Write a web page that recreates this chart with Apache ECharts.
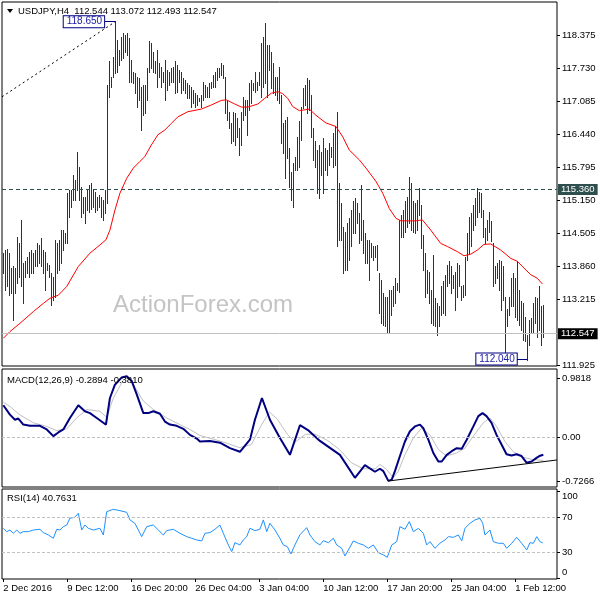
<!DOCTYPE html>
<html><head><meta charset="utf-8">
<script src="https://cdn.jsdelivr.net/npm/echarts@6/dist/echarts.min.js"></script>
<style>html,body{margin:0;padding:0;background:#fff}#c{width:600px;height:600px}</style>
</head><body><div id="c"></div>
<script>
// ---- data ----
const highs = [114.12,114.18,114.20,114.12,113.83,113.86,113.83,114.44,114.31,114.77,113.92,113.96,114.05,114.15,114.18,114.12,114.18,114.31,114.28,114.41,114.18,114.15,113.92,113.89,113.73,113.66,114.38,114.31,114.38,114.57,114.57,114.51,115.29,115.35,115.35,115.65,115.55,116.10,115.81,115.42,115.22,115.22,115.35,115.45,115.48,115.35,115.32,115.22,115.26,115.22,115.16,115.35,117.40,117.86,117.56,117.95,118.65,118.28,118.08,118.34,118.41,118.38,118.41,118.31,117.89,117.66,117.63,117.56,117.53,
117.37,117.40,117.40,117.73,118.25,118.21,118.05,117.86,118.08,117.82,117.76,117.66,117.89,117.69,117.66,117.73,117.76,117.86,117.79,117.69,117.66,117.53,117.50,117.43,117.40,117.37,117.30,117.24,117.21,117.14,117.21,117.46,117.40,117.37,117.43,117.46,117.59,117.66,117.73,117.73,117.82,117.79,117.56,117.11,116.88,116.65,116.88,116.85,116.75,116.56,116.88,117.17,117.11,117.11,117.43,117.50,117.43,117.66,117.46,117.66,118.21,118.34,118.60,118.18,118.18,118.05,117.82,117.56,117.56,
117.76,117.20,116.65,116.72,116.78,116.17,115.71,115.87,116.00,116.39,116.69,116.98,117.34,117.40,117.53,117.50,117.20,116.56,116.30,116.13,116.23,116.10,116.36,116.17,116.13,116.26,116.20,116.46,116.60,116.88,115.48,115.09,114.64,114.54,114.70,114.80,114.96,115.13,115.19,115.09,114.90,115.45,114.77,114.51,114.38,114.38,114.31,114.25,114.25,114.28,113.73,113.60,113.34,113.27,113.27,113.40,113.40,113.47,113.63,113.53,114.77,114.86,114.96,115.13,115.22,115.61,115.48,115.13,115.10,
115.16,115.39,115.06,114.48,114.12,113.79,113.76,113.40,114.09,113.24,113.14,113.08,113.47,113.57,113.70,113.89,113.96,113.86,113.70,113.76,113.92,113.89,113.47,113.50,114.05,114.51,114.83,114.90,115.06,115.19,115.39,115.32,115.29,114.96,114.61,114.77,114.93,114.74,114.31,113.86,113.92,113.99,113.96,113.86,113.27,113.04,113.27,113.63,113.73,113.63,113.96,113.40,113.18,113.14,112.88,112.53,112.82,112.85,113.14,113.27,113.24,113.47,113.08,113.11];
const lows = [113.73,113.40,113.47,113.31,113.34,112.82,113.34,113.53,113.66,113.47,113.14,113.66,113.73,113.66,113.73,113.73,113.86,113.86,113.92,113.86,113.73,113.40,113.79,113.66,113.11,113.21,113.27,113.73,113.79,113.92,114.18,114.31,114.31,114.83,115.03,115.16,115.16,115.35,115.16,114.83,114.90,114.70,114.96,114.93,114.99,115.03,114.93,114.96,115.03,114.83,114.77,114.90,115.09,117.17,117.37,117.56,117.63,117.66,117.79,117.89,117.92,118.05,117.99,117.46,117.46,117.43,117.24,116.98,117.11,
116.52,116.81,116.85,117.11,117.66,117.73,117.66,117.63,117.37,117.56,117.37,117.46,117.11,117.30,117.40,117.46,117.46,117.24,117.27,117.46,117.24,117.30,117.24,117.14,117.14,116.98,117.04,116.98,117.01,117.08,116.98,117.11,117.17,117.17,117.17,117.34,117.37,117.37,117.50,117.56,117.60,117.53,116.85,116.72,116.56,116.26,116.30,116.23,116.39,116.04,116.23,116.72,116.81,116.43,116.91,117.04,117.30,117.27,117.30,117.40,117.17,117.37,117.43,117.17,117.69,117.34,117.24,117.21,117.10,
117.04,116.26,116.07,115.58,115.97,115.42,115.16,115.03,115.74,115.74,115.81,116.33,116.95,117.01,116.85,116.91,116.39,115.94,115.81,115.29,115.19,115.65,115.29,115.74,115.65,115.84,116.00,115.81,115.84,114.25,114.38,114.38,113.73,113.79,113.79,113.99,114.25,114.51,114.51,114.70,114.31,114.38,114.12,113.92,113.92,113.60,114.05,113.99,114.05,113.79,112.95,112.75,112.72,112.69,112.56,112.56,112.91,113.08,113.14,113.40,113.37,114.44,114.44,114.54,114.64,114.70,114.57,114.54,114.52,
114.57,114.87,114.22,113.79,113.27,113.34,113.14,112.75,112.72,112.69,112.53,112.69,112.92,112.95,112.92,113.47,113.53,113.34,113.44,113.01,113.27,113.47,113.21,113.27,113.31,113.99,114.12,114.25,114.57,114.67,114.83,114.93,114.83,114.44,114.31,114.38,114.54,114.35,113.47,113.53,113.63,113.40,113.01,113.21,112.08,112.69,112.92,113.08,113.08,112.88,112.82,112.72,112.62,112.43,112.40,112.04,112.33,112.56,112.56,112.75,112.49,112.62,112.33,112.49];

const maBars = [0,3.3,8.3,15,20,23.3,27.5,31.7,37.5,43.3,48.3,51.3,53.3,55.8,58.3,61.7,65,68.3,70.7,74,77.3,80.7,84,87.3,92.3,99,104,109,111.5,115.7,119,122.3,127.3,130.7,134,137.3,139.7,142.2,144.7,148,153,156.3,161.3,166.3,169.7,173,178,181.3,186.3,189.7,193,196.3,198.8,203,206.3,209.5,213.7,218.7,222,227,230.3,233.7,237,240.3,243.7,248.7,253.7,257,260.3,263.7,267,269.5];
const maValues = [112.46,112.59,112.75,112.98,113.14,113.24,113.30,113.47,113.86,114.12,114.28,114.38,114.57,114.96,115.29,115.58,115.78,115.91,116.00,116.23,116.43,116.52,116.65,116.78,116.88,116.93,117.01,117.10,117.11,117.03,116.97,116.97,117.03,117.14,117.24,117.27,117.23,117.14,116.98,116.90,116.93,116.81,116.66,116.59,116.39,116.13,115.94,115.78,115.52,115.29,114.99,114.80,114.75,114.75,114.75,114.77,114.57,114.31,114.25,114.15,114.07,114.10,114.18,114.29,114.30,114.18,114.02,113.96,113.83,113.70,113.63,113.52];

const macdBars = [0,3.3,5.8,7.5,10,13.3,18.3,21.7,25,27.5,30,33.3,37.5,40.8,43.3,46.7,50,51.3,53.3,55.8,59.2,61.7,64.2,66.7,70,72.5,75,78.3,80.8,83.3,86.7,90,93.3,96.7,98.3,103.3,108.3,113.3,118.3,123.3,125.8,129.3,133.3,138.3,143.3,148.3,152.3,158.3,168.3,175.8,180.8,185.8,188.3,190,192.5,194.2,195.8,198.3,200.8,203.3,205.8,208.3,210,212.5,215,217.5,219.2,221.7,224.2,226.7,229.2,231.7,235,237.5,239.6,241.6,244.1,246.6,249.1,251.6,254.1,256.6,259.1,261.6,264.1,266.6,268,270];
const macdValues = [0.53,0.375,0.29,0.31,0.21,0.19,0.19,0.13,0.02,0.08,0.13,0.32,0.53,0.43,0.40,0.32,0.24,0.21,0.65,0.87,0.99,1.01,0.93,0.71,0.40,0.40,0.43,0.39,0.26,0.21,0.19,0.14,0.04,-0.02,-0.07,-0.06,-0.09,-0.18,-0.24,-0.04,0.29,0.65,0.29,-0.01,-0.29,0.20,0.12,-0.06,-0.29,-0.67,-0.46,-0.57,-0.52,-0.56,-0.72,-0.70,-0.56,-0.31,-0.07,0.10,0.18,0.21,0.15,-0.04,-0.26,-0.40,-0.40,-0.29,-0.23,-0.18,-0.19,-0.04,0.18,0.35,0.40,0.35,0.24,0.04,-0.12,-0.28,-0.30,-0.28,-0.31,-0.42,-0.40,-0.34,-0.31,-0.2894];
const signalBars = [0,3.3,8.3,15,21.7,26.7,31.7,36.7,41.7,48.3,51.7,55,60,62.5,65,70,75,81.7,88.3,93.3,98.3,105,112,118,124,129,133,137,142,146,151,156,162,168,174,180,186,188.3,191.6,195,197.5,200.8,205,209.1,213.3,217.5,221.6,226.6,230.8,235,240,243.3,246.6,250.8,255,260,265,270];
const signalValues = [0.58,0.51,0.37,0.24,0.18,0.11,0.14,0.32,0.46,0.43,0.33,0.65,0.95,0.99,0.87,0.60,0.46,0.32,0.21,0.13,0.03,-0.03,-0.10,-0.17,-0.12,0.20,0.42,0.30,0.05,-0.08,0.05,0.05,-0.05,-0.20,-0.42,-0.52,-0.52,-0.45,-0.53,-0.67,-0.56,-0.29,-0.01,0.15,0.04,-0.20,-0.31,-0.26,-0.18,0.02,0.24,0.32,0.18,-0.07,-0.24,-0.33,-0.37,-0.381];

const rsiBars = [0,1.7,3.3,5,6.7,8.3,10,12.5,15,18.3,20,22.5,25,26.7,28.3,30,31.7,33.3,35.8,37.5,39.2,40.8,42.5,45,48.3,50,51.7,55,58.3,61.7,63.3,65.8,67.5,69.2,71.7,75,77.5,80,81.7,85,88.3,91.7,94.2,96.7,99.2,100.8,103.3,105.8,108.3,110,112.5,114.2,115.8,118.3,120,121.7,123.3,125.8,128.3,130,131.7,133.3,135.8,138.3,140,142,143.8,145.8,148.3,151.7,153.3,155.8,158.3,160,162.5,165,166.7,169.2,170.8,172.5,175,177.5,180,182.5,185,187.5,190,192,194.2,196.7,198.3,200.8,203,205,207.5,210,211.7,213.3,215.8,218.3,220.8,222.5,225,227.5,229.2,230.8,233.3,235.8,238.3,239.7,240.8,243.3,245,247.5,250,251.7,254.2,256.7,259.2,261.7,263.3,265,266.7,268.3,269.7];
const rsiValues = [57.4,53.6,55.5,51.7,55.5,51.7,53.6,53.6,55.5,56.3,52.5,49.8,46.0,56.3,55.5,59.3,61.2,68.9,70.0,74.6,55.5,61.2,57.4,55.5,57.4,49.8,76.5,79.1,77.6,75.7,67.0,63.1,55.5,47.9,59.3,61.2,55.5,49.8,54.8,56.3,51.7,47.9,46.0,44.1,43.0,51.7,52.5,56.3,61.2,51.7,38.4,30.8,41.0,38.4,44.1,47.9,57.4,54.8,56.3,67.0,53.6,63.1,55.5,46.0,38.4,36.5,28.1,38.4,50.0,58.2,49.8,42.2,38.4,43.3,41.0,46.0,38.4,34.6,25.8,32.7,43.0,40.3,38.4,34.6,38.4,29.6,27.0,24.3,38.4,42.2,59.3,56.3,65.1,53.6,57.4,51.7,38.4,42.2,34.6,40.3,44.1,47.9,47.1,49.8,43.0,57.4,63.1,67.0,68.9,63.1,49.8,55.5,42.2,40.3,40.3,34.6,40.3,47.1,40.3,32.7,41.0,40.3,47.9,42.2,40.7631];

const priceTicks = [118.375,117.730,117.085,116.440,115.795,115.150,114.505,113.860,113.215,111.925];
const priceTickLabels = ['118.375','117.730','117.085','116.440','115.795','115.150','114.505','113.860','113.215','111.925'];
const macdTicks = [0.9818,0,-0.7266];
const macdTickLabels = ['0.9818','0.00','-0.7266'];
const rsiTicks = [100,70,30,0];
const rsiLevels = [70,30];
const timeTickBars = [0,32,64,96,128,160,192,224,256];
const timeTickLabels = ['2 Dec 2016','9 Dec 12:00','16 Dec 20:00','26 Dec 04:00','3 Jan 04:00','10 Jan 12:00','17 Jan 20:00','25 Jan 04:00','1 Feb 12:00'];
const resistance = 115.360, lastPrice = 112.547;
const highMark = {bar:56, price:118.635, text:'118.650', labelBar:40.3, lineStartBar:50.8, trendStart:[-0.665,117.17]};
const lowMark = {bar:262, price:112.055, text:'112.040', labelBar:246.6, lineStartBar:256.8};
const macdTrend = [[192.5,-0.723],[276.8,-0.375]];
const headerText = 'USDJPY,H4  112.544 113.072 112.493 112.547';
const macdText = 'MACD(12,26,9) -0.2894 -0.3810';
const rsiText = 'RSI(14) 40.7631';

// ---- chart ----
const FONT = '"Liberation Sans", Arial, sans-serif';
const FS = 9.5;
const XMIN = -0.665, XMAX = 276.835;
const chart = echarts.init(document.getElementById('c'), null, {renderer:'canvas', width:600, height:600});
const pairs = (xs, ys) => xs.map((x,i)=>[x, ys[i]]);
const grid = (top, height) => ({left:2, top, width:555, height, show:true, borderColor:'#000', borderWidth:1, backgroundColor:'transparent'});
const xAxisBase = (gi, withLabels) => ({
  type:'value', gridIndex:gi, min:XMIN, max:XMAX, position:'bottom',
  axisLine:{show:false, onZero:false}, splitLine:{show:false},
  axisTick: withLabels ? {show:true, customValues:timeTickBars, length:3, lineStyle:{color:'#000'}} : {show:false},
  axisLabel: withLabels ? {show:true, customValues:timeTickBars, align:'left', margin:4, fontSize:FS, fontFamily:FONT, color:'#000',
      formatter:v => timeTickLabels[timeTickBars.indexOf(v)]} : {show:false}
});
const yAxisBase = (gi, min, max, ticks, fmt) => ({
  type:'value', gridIndex:gi, position:'right', min, max, scale:true,
  axisLine:{show:false, onZero:false}, splitLine:{show:false},
  axisTick:{show:true, customValues:ticks, length:3, lineStyle:{color:'#000'}},
  axisLabel:{show:true, customValues:ticks, margin:5, fontSize:FS, fontFamily:FONT, color:'#000', formatter:fmt}
});

const rsiAxis = yAxisBase(2, -0.51, 102.34, rsiTicks, v => v===100 ? '{a|100}' : (v===0 ? '{b|0}' : String(v)));
rsiAxis.axisLabel.rich = {
  a:{padding:[10,0,0,0], fontSize:FS, fontFamily:FONT, color:'#000'},
  b:{padding:[0,0,12,0], fontSize:FS, fontFamily:FONT, color:'#000'}
};

const option = {
  animation:false,
  backgroundColor:'#fff',
  grid:[grid(2,364), grid(369,118), grid(489,90)],
  xAxis:[xAxisBase(0,false), xAxisBase(1,false), xAxisBase(2,true)],
  yAxis:[
    yAxisBase(0, 111.919, 119.019, priceTicks, v => priceTickLabels[priceTicks.indexOf(v)]),
    yAxisBase(1, -0.8219, 1.1295, macdTicks, v => macdTickLabels[macdTicks.indexOf(v)]),
    rsiAxis
  ],
  graphic:[
    {type:'text', z:1, left:113, top:293, style:{text:'ActionForex.com', fontSize:24, fontFamily:FONT, fill:'#c4c4c4'}},
    {type:'polygon', z:100, shape:{points:[[7,9],[13,9],[10,13]]}, style:{fill:'#000'}},
    {type:'text', z:100, x:18, y:11, style:{text:headerText, fontSize:FS, fontFamily:FONT, fill:'#000', verticalAlign:'middle'}},
    {type:'text', z:100, x:7, y:380, style:{text:macdText, fontSize:FS, fontFamily:FONT, fill:'#000', verticalAlign:'middle'}},
    {type:'text', z:100, x:7, y:498.5, style:{text:rsiText, fontSize:FS, fontFamily:FONT, fill:'#000', verticalAlign:'middle'}}
  ],
  series:[
    {
      type:'custom', name:'bars', xAxisIndex:0, yAxisIndex:0, z:3,
      data: highs.map((h,i)=>[i,h,lows[i]]),
      encode:{x:0, y:[1,2]},
      renderItem:(params, api) => {
        const p1 = api.coord([api.value(0), api.value(1)]);
        const p2 = api.coord([api.value(0), api.value(2)]);
        const x = Math.round(p1[0]-0.5)+0.5;
        return {type:'line', shape:{x1:x, y1:Math.round(p1[1]), x2:x, y2:Math.round(p2[1])+1}, style:{stroke:'#0f3b58', lineWidth:1}};
      }
    },
    {
      type:'line', name:'MA', xAxisIndex:0, yAxisIndex:0, z:4,
      data: pairs(maBars, maValues), showSymbol:false, symbol:'none',
      lineStyle:{color:'#ff0000', width:1},
      markLine:{
        silent:true, symbol:'none', animation:false,
        data:[
          {yAxis:resistance, lineStyle:{color:'#2f4f4f', type:[4,3], width:1},
           label:{show:true, position:'end', distance:1, formatter:'115.360', color:'#fff', backgroundColor:'#2f4f4f', padding:[1,3,0,3], fontSize:FS, fontFamily:FONT}},
          {yAxis:lastPrice, lineStyle:{color:'#c0c0c0', type:'solid', width:1},
           label:{show:true, position:'end', distance:1, formatter:'112.547', color:'#fff', backgroundColor:'#000', padding:[1,3,0,3], fontSize:FS, fontFamily:FONT}},
          [{coord:highMark.trendStart, lineStyle:{color:'#000', type:[2,3], width:1}, label:{show:false}}, {coord:[highMark.bar, highMark.price]}],
          [{coord:[highMark.lineStartBar, highMark.price], lineStyle:{color:'#000080', type:'solid', width:1}, label:{show:false}}, {coord:[highMark.bar, highMark.price]}],
          [{coord:[lowMark.lineStartBar, lowMark.price], lineStyle:{color:'#000080', type:'solid', width:1}, label:{show:false}}, {coord:[lowMark.bar, lowMark.price]}]
        ]
      },
      markPoint:{
        silent:true, symbol:'rect', symbolSize:0, animation:false,
        data:[
          {coord:[highMark.labelBar, highMark.price], label:{show:true, position:'inside', formatter:highMark.text, color:'#1a1aa8', fontSize:10, fontFamily:FONT, backgroundColor:'#fff', borderColor:'#000080', borderWidth:1, padding:[1,2,0,3]}},
          {coord:[lowMark.labelBar, lowMark.price], label:{show:true, position:'inside', formatter:lowMark.text, color:'#1a1aa8', fontSize:10, fontFamily:FONT, backgroundColor:'#fff', borderColor:'#000080', borderWidth:1, padding:[1,2,0,3]}}
        ]
      }
    },
    {
      type:'line', name:'Signal', xAxisIndex:1, yAxisIndex:1, z:3,
      data: pairs(signalBars, signalValues), showSymbol:false, symbol:'none',
      lineStyle:{color:'#c0c0c0', width:1},
      markLine:{silent:true, symbol:'none', data:[{yAxis:0, lineStyle:{color:'#c0c0c0', type:[3,2], width:1}, label:{show:false}}]}
    },
    {
      type:'line', name:'MACD', xAxisIndex:1, yAxisIndex:1, z:4,
      data: pairs(macdBars, macdValues), showSymbol:false, symbol:'none',
      lineStyle:{color:'#000080', width:2},
      markLine:{silent:true, symbol:'none', data:[
        [{coord:macdTrend[0], lineStyle:{color:'#000', type:'solid', width:1}, label:{show:false}}, {coord:macdTrend[1]}]
      ]}
    },
    {
      type:'line', name:'RSI', xAxisIndex:2, yAxisIndex:2, z:4,
      data: pairs(rsiBars, rsiValues), showSymbol:false, symbol:'none',
      lineStyle:{color:'#1e90ff', width:1},
      markLine:{silent:true, symbol:'none', data: rsiLevels.map(v => ({yAxis:v, lineStyle:{color:'#c0c0c0', type:[3,2], width:1}, label:{show:false}}))}
    }
  ]
};
chart.setOption(option);
</script>
</body></html>
